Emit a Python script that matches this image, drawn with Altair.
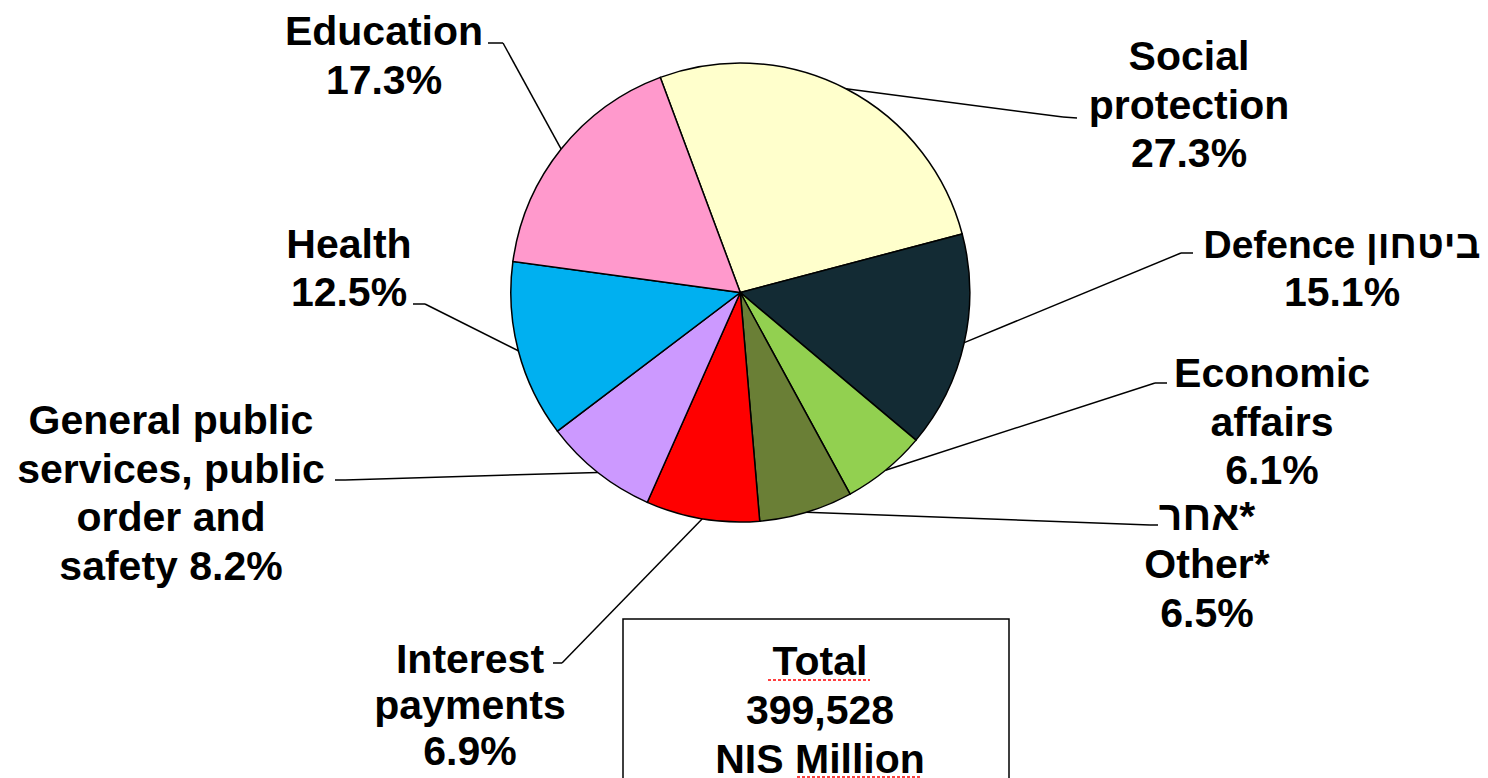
import math
import altair as alt
import pandas as pd

# ---------------- data ----------------
categories = [
    "Social protection", "Defence", "Economic affairs", "Other",
    "Interest payments", "General public services, public order and safety",
    "Health", "Education",
]
# share of the circle each slice covers, as drawn (percent)
slice_share = [26.6, 15.25, 5.95, 6.6, 8.0, 8.05, 12.5, 17.2]
# printed labels
label_lines = [
    ["Social", "protection", "27.3%"],
    ["Defence ביטחון", "15.1%"],
    ["Economic", "affairs", "6.1%"],
    ["אחר*", "Other*", "6.5%"],
    ["Interest", "payments", "6.9%"],
    ["General public", "services, public", "order and", "safety 8.2%"],
    ["Health", "12.5%"],
    ["Education", "17.3%"],
]
slice_colors = ["#FFFFCC", "#132B34", "#92D050", "#6A7F36",
                "#FF0000", "#CC99FF", "#00B0F0", "#FF99CC"]
total_lines = ["Total", "399,528", "NIS Million"]

# ---------------- layout (page pixels) ----------------
M = 8                      # page margin
W, H = 1472, 770
CX, CY, R = 740.3, 292.5, 229.5
START = math.radians(-20.4)
FONT = "Liberation Sans, Arial, sans-serif"
FS = 41

label_pos = [  # x centre, baselines of each line
    (1189, [70, 119, 167]),
    (1342, [258, 306]),
    (1272, [387, 436, 484]),
    (1207, [530, 578, 627]),
    (470, [673, 719, 765]),
    (171, [434, 483, 531, 580]),
    (349, [258, 306]),
    (384, [45, 94]),
]
# font size per line (the mixed Hebrew/Latin line is set a little smaller to fit)
label_fs = [
    [FS, FS, FS], [39, FS], [FS, FS, FS], [FS, FS, FS],
    [FS, FS, FS], [FS, FS, FS, FS], [FS, FS], [FS, FS],
]
leader_pts = [  # points from the slice edge outwards to the label
    [(1063, 117), (1077, 118)],
    [(1181, 253), (1193, 253)],
    [(1155, 383), (1167, 383)],
    [(1150, 525), (1158, 525)],
    [(562, 663), (553, 663)],
    [(345, 480), (335, 480)],
    [(425, 304), (413, 304)],
    [(503, 43), (488, 43)],
]
box = (623, 619, 1009, 800)
total_pos = (820, [675, 724, 773])
squiggles = [(768, 870, 680), (797, 922, 777)]

# ---------------- tables ----------------
slices = pd.DataFrame({"category": categories, "share": slice_share,
                       "idx": list(range(len(categories)))})

tot = sum(slice_share)
seg_rows = []
cum = 0.0
for i, s in enumerate(slice_share):
    a = START + 2 * math.pi * (cum + s / 2) / tot
    cum += s
    pts = [(CX + R * math.sin(a), CY - R * math.cos(a))] + leader_pts[i]
    for p, q in zip(pts[:-1], pts[1:]):
        seg_rows.append({"x": p[0] - M, "y": p[1] - M, "x2": q[0] - M, "y2": q[1] - M})
segs = pd.DataFrame(seg_rows)

text_rows = []
for lines, (lx, bys), fss in zip(label_lines, label_pos, label_fs):
    for t, by, f in zip(lines, bys, fss):
        text_rows.append({"text": t, "x": lx - M, "y": by - M, "fs": f})
for t, by in zip(total_lines, total_pos[1]):
    text_rows.append({"text": t, "x": total_pos[0] - M, "y": by - M, "fs": FS})
texts = pd.DataFrame(text_rows)

boxdf = pd.DataFrame([{"x": box[0] - M, "y": box[1] - M, "x2": box[2] - M, "y2": box[3] - M}])
sqdf = pd.DataFrame([{"x": a - M, "x2": b - M, "y": y - M} for a, b, y in squiggles])

X = lambda f: alt.X(f, scale=None, axis=None)
Y = lambda f: alt.Y(f, scale=None, axis=None)

rect = alt.Chart(boxdf).mark_rect(fill="white", stroke="black", strokeWidth=1.5).encode(
    x=X("x:Q"), y=Y("y:Q"), x2="x2:Q", y2="y2:Q")

leaders = alt.Chart(segs).mark_rule(color="black", strokeWidth=1.5).encode(
    x=X("x:Q"), y=Y("y:Q"), x2="x2:Q", y2="y2:Q")

arcs = alt.Chart(slices).mark_arc(outerRadius=R, stroke="black", strokeWidth=1.5).encode(
    theta=alt.Theta("share:Q", stack=True,
                    scale=alt.Scale(range=[START, START + 2 * math.pi])),
    color=alt.Color("category:N", scale=alt.Scale(domain=categories, range=slice_colors),
                    legend=None),
    order=alt.Order("idx:Q"),
    x=alt.value(CX - M), y=alt.value(CY - M),
)

labels = alt.Chart(texts).mark_text(font=FONT, fontWeight="bold",
                                    align="center", baseline="alphabetic",
                                    color="black").encode(
    x=X("x:Q"), y=Y("y:Q"), text="text:N",
    size=alt.Size("fs:Q", scale=None, legend=None))

squig = alt.Chart(sqdf).mark_rule(color="red", strokeWidth=1.5, strokeDash=[3, 2]).encode(
    x=X("x:Q"), x2="x2:Q", y=Y("y:Q"))

chart = alt.layer(rect, leaders, arcs, squig, labels).properties(
    width=W, height=H, padding=0,
    autosize=alt.AutoSizeParams(type="none"),
).configure_view(stroke=None)

chart.save("out.html", embed_options={"renderer": "svg", "actions": False})
